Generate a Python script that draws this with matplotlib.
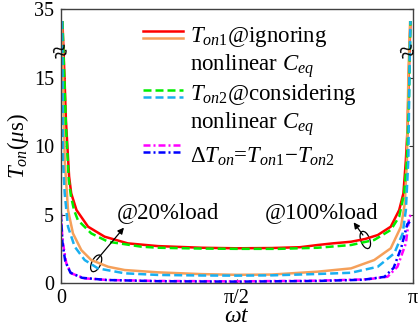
import numpy as np
import matplotlib
matplotlib.use("Agg")
import matplotlib.pyplot as plt
from matplotlib.patches import Ellipse
from matplotlib.lines import Line2D
from matplotlib.transforms import ScaledTranslation
from matplotlib.ticker import NullLocator

# ---------------------------------------------------------------------------
# Data: on-time over half a line cycle (x given as fraction of pi)
# ---------------------------------------------------------------------------
ton1_full_x = [0.004, 0.010, 0.014, 0.023, 0.029, 0.044, 0.077, 0.124, 0.19, 0.276,
               0.40, 0.50, 0.60, 0.68, 0.73, 0.773, 0.825, 0.865, 0.901, 0.938,
               0.962, 0.974, 0.981, 0.986, 0.989, 0.994]
ton1_full_y = [31.5, 15.0, 11.9, 7.8, 6.56, 5.34, 4.12, 3.39, 2.90, 2.70,
               2.58, 2.54, 2.56, 2.62, 2.78, 2.90, 3.02, 3.22, 3.51, 4.12,
               5.34, 6.56, 9.0, 11.4, 15.0, 31.5]

ton2_full_x = [0.004, 0.0095, 0.014, 0.022, 0.028, 0.037, 0.048, 0.086, 0.134, 0.228,
               0.276, 0.40, 0.50, 0.62, 0.73, 0.825, 0.891, 0.938, 0.962, 0.976,
               0.984, 0.989, 0.991, 0.994]
ton2_full_y = [31.5, 15.0, 11.5, 7.6, 6.4, 5.34, 4.6, 3.63, 3.02, 2.66,
               2.58, 2.52, 2.50, 2.50, 2.58, 2.78, 3.15, 3.88, 4.85, 6.56,
               9.0, 12.66, 15.0, 31.5]

ton1_light_x = [0.003, 0.006, 0.0105, 0.0199, 0.034, 0.0577, 0.0861, 0.134, 0.181, 0.276,
                0.40, 0.50, 0.60, 0.68, 0.73, 0.825, 0.891, 0.938, 0.967, 0.978,
                0.984, 0.988, 0.993]
ton1_light_y = [31.5, 15.0, 9.0, 5.34, 3.63, 2.41, 1.68, 1.19, 0.95, 0.78,
                0.65, 0.60, 0.62, 0.75, 0.83, 1.07, 1.68, 2.54, 4.12, 5.83,
                9.0, 15.0, 31.5]

ton2_light_x = [0.003, 0.0045, 0.0057, 0.0105, 0.0199, 0.0389, 0.0673, 0.105, 0.181, 0.276,
                0.40, 0.50, 0.60, 0.73, 0.825, 0.901, 0.948, 0.972, 0.981, 0.988,
                0.991, 0.994]
ton2_light_y = [31.5, 15.0, 9.0, 6.56, 4.12, 2.66, 1.68, 1.07, 0.71, 0.59,
                0.55, 0.54, 0.56, 0.66, 0.75, 1.19, 2.17, 3.63, 5.34, 9.0,
                15.0, 31.5]

dton_light_x = [0.0, 0.003, 0.0057, 0.015, 0.029, 0.067, 0.134, 0.276, 0.50, 0.73,
                0.872, 0.929, 0.957, 0.981, 0.9906, 1.0]
dton_light_y = [5.1, 3.6, 2.9, 1.44, 0.71, 0.34, 0.22, 0.15, 0.12, 0.17,
                0.27, 0.46, 1.19, 2.9, 4.85, 5.1]

dton_full_x = [0.0, 0.004, 0.012, 0.027, 0.060, 0.13, 0.28, 0.50, 0.73, 0.86,
               0.92, 0.946, 0.968, 0.985, 0.997]
dton_full_y = [5.0, 3.0, 1.6, 0.75, 0.38, 0.22, 0.13, 0.10, 0.15, 0.24,
               0.45, 1.10, 2.60, 4.30, 4.60]

yticks = [0, 5, 10, 15, 35]
xtick_labels = ["0", "π/2", "π"]

# ---------------------------------------------------------------------------
# Broken y axis: 15..35 compressed
# ---------------------------------------------------------------------------
BREAK = 15.0
K = 0.2524


def fwd(y):
    y = np.asarray(y, dtype=float)
    return np.where(y <= BREAK, y, BREAK + (y - BREAK) * K)


def inv(y):
    y = np.asarray(y, dtype=float)
    return np.where(y <= BREAK, y, BREAK + (y - BREAK) / K)


plt.rcParams.update({
    "font.family": "Liberation Serif",
    "mathtext.fontset": "custom",
    "mathtext.rm": "Liberation Serif",
    "mathtext.it": "Liberation Serif:italic",
    "mathtext.bf": "Liberation Serif:bold",
    "font.size": 14.5,
})

fig = plt.figure(figsize=(4.19, 3.30), dpi=100)
ax = fig.add_axes([0.1456, 0.1424, 0.839, 0.8303])

lw = 1.8
DASH = (3.2, 1.6)
DASHDOT = (2.8, 1.2, 0.8, 1.2)

curves = [
    (ton1_full_x, ton1_full_y, "#ff0000", "-"),
    (ton1_light_x, ton1_light_y, "#f5a05a", "-"),
    (ton2_full_x, ton2_full_y, "#00ee00", DASH),
    (ton2_light_x, ton2_light_y, "#19aff0", DASH),
    (dton_light_x, dton_light_y, "#ff00ff", DASHDOT),
    (dton_full_x, dton_full_y, "#0000ff", DASHDOT),
]
for xs, ys, c, ls in curves:
    x = np.asarray(xs) * np.pi
    if ls == "-":
        ax.plot(x, ys, color=c, lw=lw, solid_capstyle="butt")
    else:
        off = 2.0 if c == "#0000ff" else 0.0
        ax.plot(x, ys, color=c, lw=lw, linestyle=(off, ls))

ax.set_yscale("function", functions=(fwd, inv))
ax.set_ylim(0, 35)
ax.set_xlim(0, np.pi)
ax.set_yticks(yticks)
ax.set_yticklabels([str(t) for t in yticks])
ax.yaxis.set_minor_locator(NullLocator())
ax.set_xticks([0, np.pi / 2, np.pi])
ax.set_xticklabels(xtick_labels)
ax.tick_params(axis="both", direction="in", length=3, width=0.8,
               labelsize=14.5, colors="#333333", labelcolor="black")
ax.tick_params(axis="y", right=True, pad=5)
ax.tick_params(axis="x", pad=4)
for sp in ax.spines.values():
    sp.set_color("#404040")
    sp.set_linewidth(1.0)

ax.set_xlabel(r"$\omega t$", fontsize=17, labelpad=-1)
ax.set_ylabel(r"$T_{on}(\mu$s)", fontsize=16.5, labelpad=2)

# break marks on both vertical spines
for xa in (0.0, 0.985):
    ax.text(xa, 0.836, "≈", transform=ax.transAxes, ha="center", va="center",
            fontsize=20, rotation=20, clip_on=False)

# legend drawn as stacked line pairs beside text
key_x = (0.233, 0.347)
key_rows = [
    ((0.921, "#ff0000", "-"), (0.893, "#f5a05a", "-")),
    ((0.704, "#00ee00", DASH), (0.678, "#19aff0", DASH)),
    ((0.504, "#ff00ff", DASHDOT), (0.477, "#0000ff", DASHDOT)),
]
for row in key_rows:
    for yk, c, ls in row:
        style = "-" if ls == "-" else (0, ls)
        ax.add_line(Line2D(key_x, [yk, yk], transform=ax.transAxes, color=c,
                           lw=lw, linestyle=style))

leg_text = [
    (0.8796, r"$T_{on\mathrm{1}}$@ignoring"),
    (0.7755, r"nonlinear $C_{eq}$"),
    (0.6679, r"$T_{on2}$@considering"),
    (0.5646, r"nonlinear $C_{eq}$"),
    (0.4405, r"$\Delta T_{on}$=$T_{on\mathrm{1}}$−$T_{on\mathrm{2}}$"),
]
for yt, s in leg_text:
    ax.text(0.366, yt, s, transform=ax.transAxes, ha="left", va="baseline",
            fontsize=16.5)

# load annotations: ellipse round the curve pair, arrow to the label
ax.text(0.159 * np.pi, 5.12, "@20%load", fontsize=16.5, ha="left", va="center")
ax.text(0.5795 * np.pi, 5.19, "@100%load", fontsize=16.5, ha="left", va="center")

for (cx, cy, ang), (x0, y0, x1, y1) in [
    ((0.1000 * np.pi, 1.44, -25), (0.1014 * np.pi, 1.68, 0.179 * np.pi, 4.05)),
    ((0.8656 * np.pi, 3.15, 20), (0.8588 * np.pi, 3.51, 0.8324 * np.pi, 4.44)),
]:
    tr = fig.dpi_scale_trans + ScaledTranslation(cx, cy, ax.transData)
    ax.add_patch(Ellipse((0, 0), 0.09, 0.18, angle=ang, transform=tr,
                         fill=False, ec="black", lw=0.9))
    ax.annotate("", xy=(x1, y1), xytext=(x0, y0),
                arrowprops=dict(arrowstyle="-|>", color="black", lw=0.9,
                                mutation_scale=9, shrinkA=0, shrinkB=0))

fig.savefig("out.png", dpi=100)
